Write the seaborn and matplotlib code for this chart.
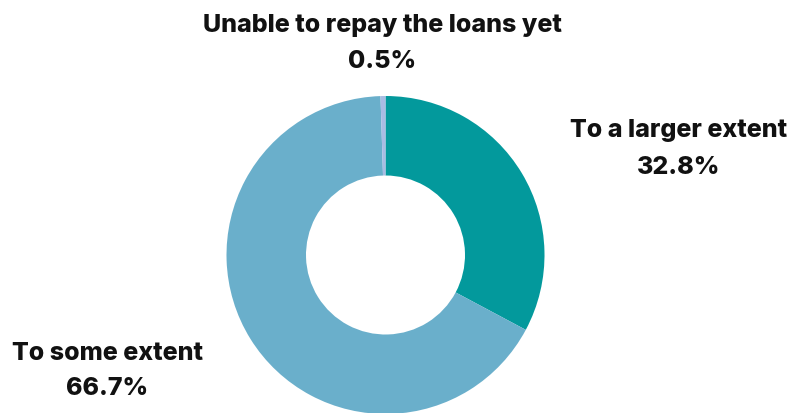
import matplotlib
matplotlib.use("Agg")
import matplotlib.pyplot as plt
import seaborn as sns

categories = ["To a larger extent", "To some extent", "Unable to repay the loans yet"]
shares = [32.8, 66.7, 0.5]
share_labels = ["32.8%", "66.7%", "0.5%"]
colors = ["#03999C", "#6AAFCB", "#A9BCE3"]

sns.set_theme(style="white")
plt.rcParams["font.family"] = ["Inter", "DejaVu Sans"]

W, H = 792, 414
fig = plt.figure(figsize=(W / 100, H / 100), dpi=100)
ax = fig.add_axes([0, 0, 1, 1])

cx, cy, r = 385.5, H - 256, 159
ax.pie(shares, colors=colors, startangle=90, counterclock=False,
       center=(cx, cy), radius=r,
       wedgeprops=dict(width=r * 0.5, linewidth=0))

ax.set_xlim(0, W)
ax.set_ylim(0, H)
ax.set_aspect("equal")
ax.axis("off")

label_pos = {
    "To a larger extent": (679, 131, 167),
    "To some extent": (107, 354, 389),
    "Unable to repay the loans yet": (382, 25, 62),
}
for cat, txt in zip(categories, share_labels):
    x, y1, y2 = label_pos[cat]
    ax.text(x, H - y1, cat, ha="center", va="center", fontsize=18,
            fontweight="heavy", color="#111111")
    ax.text(x, H - y2, txt, ha="center", va="center", fontsize=18,
            fontweight="heavy", color="#111111")

fig.savefig("out.png", dpi=100)
